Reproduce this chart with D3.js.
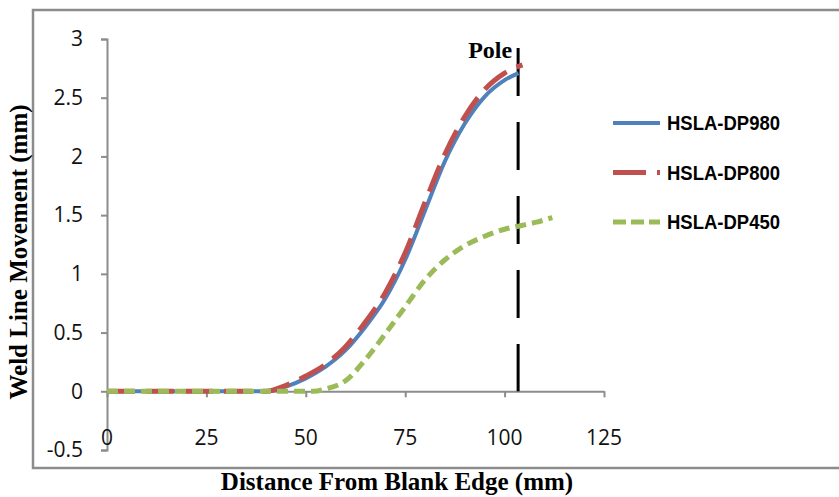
<!DOCTYPE html>
<html>
<head>
<meta charset="utf-8">
<script src="https://cdn.jsdelivr.net/npm/d3@7"></script>
<style>
  body { margin: 0; background: #fff; }
  svg { display: block; }
</style>
</head>
<body>
<div id="chart"></div>
<script>
// data
const xs980 = [0, 5, 10, 15, 20, 25, 30, 35, 40, 45, 50, 55, 60, 65, 70, 75, 80, 85, 90, 95, 100, 103.5];
const dp980 = [0, 0, 0, 0, 0, 0, 0, 0, 0, 0.04, 0.11, 0.21, 0.35, 0.55, 0.79, 1.12, 1.54, 1.96, 2.28, 2.51, 2.65, 2.71];

const xs800 = [0, 5, 10, 15, 20, 25, 30, 35, 40, 45, 50, 55, 60, 65, 70, 75, 80, 85, 90, 95, 100, 104.5];
const dp800 = [0, 0, 0, 0, 0, 0, 0, 0, 0, 0.05, 0.13, 0.23, 0.38, 0.59, 0.84, 1.18, 1.61, 2.02, 2.34, 2.57, 2.71, 2.78];

const xs450 = [0, 5, 10, 15, 20, 25, 30, 35, 40, 45, 50, 52, 55, 60, 65, 70, 75, 80, 85, 90, 95, 100, 104, 108, 112];
const dp450 = [0, 0, 0, 0, 0, 0, 0, 0, 0, 0, 0, 0, 0.02, 0.09, 0.27, 0.49, 0.72, 0.95, 1.12, 1.24, 1.32, 1.38, 1.41, 1.44, 1.48];

const seriesNames = ['HSLA-DP980', 'HSLA-DP800', 'HSLA-DP450'];
const xTicks = [0, 25, 50, 75, 100, 125];
const yTicks = [-0.5, 0, 0.5, 1, 1.5, 2, 2.5, 3];
const polePosition = 103.4;

const width = 839;
const height = 497;

const svg = d3.select('#chart')
  .append('svg')
  .attr('width', width)
  .attr('height', height);

// outer frame (right side runs off the picture)
svg.append('rect')
  .attr('x', 33)
  .attr('y', 10)
  .attr('width', 830)
  .attr('height', 458)
  .style('fill', 'none')
  .style('stroke', '#8c8c8c')
  .style('stroke-width', 2.5);

const x = d3.scaleLinear().domain([0, 125]).range([107, 604]);
const y = d3.scaleLinear().domain([-0.5, 3]).range([450, 39]);

const tickFont = '"Open Sans", sans-serif';
const fmt = d => String(d); // plain hyphen for the minus sign, like the original

// y axis
const yAxis = d3.axisLeft(y)
  .tickValues(yTicks)
  .tickSize(6)
  .tickSizeOuter(6)
  .tickPadding(18)
  .tickFormat(fmt);

const gy = svg.append('g')
  .attr('transform', `translate(${x(0)},0)`)
  .call(yAxis);
gy.selectAll('path, line').style('stroke', '#8c8c8c').style('stroke-width', 2);
gy.selectAll('text')
  .style('font-family', tickFont)
  .style('font-size', '21px')
  .style('fill', '#111');

// x axis at y = 0, labels down at the bottom
const xAxis = d3.axisBottom(x)
  .tickValues(xTicks)
  .tickSize(6)
  .tickSizeOuter(0)
  .tickFormat('');

const gx = svg.append('g')
  .attr('transform', `translate(0,${y(0)})`)
  .call(xAxis);
gx.selectAll('path, line').style('stroke', '#8c8c8c').style('stroke-width', 2);

svg.append('g')
  .selectAll('text')
  .data(xTicks)
  .enter()
  .append('text')
  .attr('x', d => x(d))
  .attr('y', 437)
  .attr('dy', '0.36em')
  .attr('text-anchor', 'middle')
  .style('font-family', tickFont)
  .style('font-size', '21px')
  .style('fill', '#111')
  .text(fmt);

// pole marker
svg.append('line')
  .attr('x1', x(polePosition))
  .attr('x2', x(polePosition))
  .attr('y1', 48)
  .attr('y2', y(0))
  .style('stroke', '#000')
  .style('stroke-width', 3)
  .style('stroke-dasharray', '48,26');

svg.append('text')
  .attr('x', x(polePosition) - 6)
  .attr('y', 58)
  .attr('text-anchor', 'end')
  .style('font-family', '"Liberation Serif", "Times New Roman", serif')
  .style('font-weight', 'bold')
  .style('font-size', '24px')
  .text('Pole');

// curves
const series = [
  { name: seriesNames[0], xs: xs980, ys: dp980, color: '#4f81bd', width: 4, dash: null, legendDash: null },
  { name: seriesNames[1], xs: xs800, ys: dp800, color: '#c0504d', width: 5, dash: '28,11', legendDash: '33,11' },
  { name: seriesNames[2], xs: xs450, ys: dp450, color: '#9bbb59', width: 5, dash: '11,6', legendDash: '13,5' }
];

const line = d3.line()
  .x(d => x(d[0]))
  .y(d => y(d[1]))
  .curve(d3.curveMonotoneX);

svg.append('g')
  .selectAll('path')
  .data(series)
  .enter()
  .append('path')
  .attr('d', s => line(s.xs.map((v, i) => [v, s.ys[i]])))
  .style('fill', 'none')
  .style('stroke', s => s.color)
  .style('stroke-width', s => s.width)
  .style('stroke-dasharray', s => s.dash);

// legend
const legend = svg.append('g')
  .selectAll('g')
  .data(series)
  .enter()
  .append('g')
  .attr('transform', (s, i) => `translate(613,${123 + i * 49.5})`);

legend.append('line')
  .attr('x1', 0)
  .attr('x2', 47)
  .style('stroke', s => s.color)
  .style('stroke-width', s => s.width)
  .style('stroke-dasharray', s => s.legendDash);

legend.append('text')
  .attr('x', 54)
  .attr('dy', '0.36em')
  .attr('textLength', 113)
  .attr('lengthAdjust', 'spacingAndGlyphs')
  .style('font-family', '"Liberation Sans", Arial, sans-serif')
  .style('font-weight', 'bold')
  .style('font-size', '20px')
  .style('fill', '#000')
  .text(s => s.name);

// axis titles
const titleFont = '"Liberation Serif", "Times New Roman", serif';

svg.append('text')
  .attr('x', 397)
  .attr('y', 490)
  .attr('text-anchor', 'middle')
  .style('font-family', titleFont)
  .style('font-weight', 'bold')
  .style('font-size', '25px')
  .text('Distance From Blank Edge (mm)');

svg.append('text')
  .attr('transform', 'translate(27,252) rotate(-90)')
  .attr('text-anchor', 'middle')
  .style('font-family', titleFont)
  .style('font-weight', 'bold')
  .style('font-size', '25px')
  .text('Weld Line Movement (mm)');
</script>
</body>
</html>
